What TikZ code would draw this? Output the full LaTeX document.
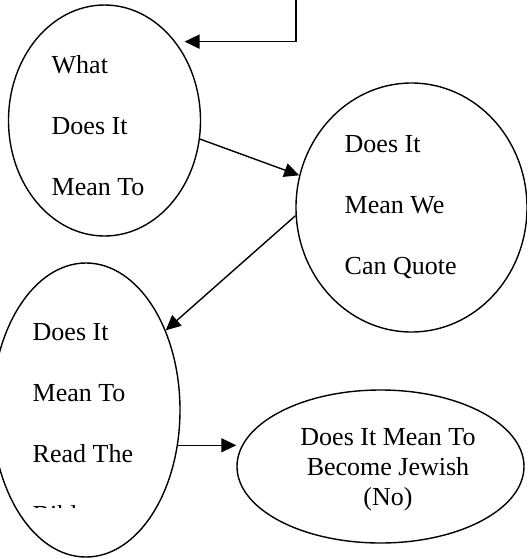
\documentclass[tikz,border=0pt]{standalone}
\usepackage{fontspec}
\setmainfont{Liberation Serif}
\usetikzlibrary{arrows.meta,shapes.geometric}

\begin{document}
\begin{tikzpicture}
  [
    x=0.5pt, y=-0.5pt,
    line width=0.7pt,
    >={Triangle[length=7.5pt,width=7pt]},
    bubble/.style={draw, ellipse, inner sep=0pt},
    words/.style={inner sep=0pt, align=left, anchor=north west, font=\fontsize{13}{30.5}\selectfont},
  ]
  \useasboundingbox (0,0) rectangle (527,559);
  \clip (0,0) rectangle (527,559);

  \node [bubble, minimum width=96pt, minimum height=115.5pt] (what) at (104.5,120.5) {};
  \node [bubble, minimum width=115.5pt, minimum height=124.5pt] (quote) at (411.5,207.5) {};
  \node [bubble, minimum width=94pt, minimum height=147pt] (read) at (86,410) {};
  \node [bubble, minimum width=143.5pt, minimum height=76.5pt] (jewish) at (380.5,466.5) {};

  \node [words] (what text) at (51,55) {What\\Does It\\Mean To};
  \node [words] (quote text) at (344,135) {Does It\\Mean We\\Can Quote};
  \begin{scope}
    \clip (0,0) rectangle (527,507);
    \node [words] (read text) at (32,323) {Does It\\Mean To\\Read The\\Bible};
  \end{scope}
  \node [words, anchor=north, align=center, font=\fontsize{13}{15}\selectfont] (jewish text) at (388,428) {Does It Mean To\\Become Jewish\\(No)};

  \coordinate (feed) at (296,0);
  \draw [->, shorten >=4.5pt] (feed) |- (what.48);
  \draw [->] (what.-11) -- (quote.164);
  \draw [->] (quote.184) -- (read.45);
  \draw [->] (read.-21) -- (read.-21 -| jewish.west);
\end{tikzpicture}
\end{document}
